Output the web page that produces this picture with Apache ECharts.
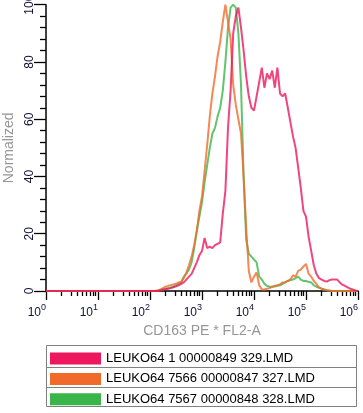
<!DOCTYPE html>
<html><head><meta charset="utf-8">
<script src="https://cdn.jsdelivr.net/npm/echarts@6/dist/echarts.min.js"></script>
<style>html,body{margin:0;padding:0;background:#fff}#c{width:363px;height:413px}</style>
</head><body><div id="c"></div>
<script>
// x positions in decades (log10 of CD163 PE * FL2-A)
const decades = [0,
 2.00,2.05,2.10,2.15,2.20,2.25,2.30,2.35,2.40,2.45,
 2.50,2.55,2.60,2.65,2.70,2.75,2.80,2.85,2.90,2.95,
 3.00,3.05,3.10,3.15,3.20,3.25,3.30,3.35,3.40,3.45,
 3.50,3.55,3.60,3.65,3.70,3.75,3.80,3.85,3.90,3.95,
 4.00,4.05,4.10,4.15,4.20,4.25,4.30,4.35,4.40,4.45,
 4.50,4.55,4.60,4.65,4.70,4.75,4.80,4.85,4.90,4.95,
 5.00,5.05,5.10,5.15,5.20,5.25,5.30,5.35,5.40,5.45,
 5.50,5.55,5.60,5.65,5.70,5.75,5.80,5.85,5.90,5.95,
 6.00];
const seriesNames = ['LEUKO64 1 00000849 329.LMD','LEUKO64 7566 00000847 327.LMD','LEUKO64 7567 00000848 328.LMD'];
const pinkValues = [0,
 0,0,0,0,0.2,0.4,0.6,0.8,1,1.3,
 1.6,2,2.5,3,4,5,6,8,10,12.5,
 14,18.5,15,15.5,15,16,16.5,17,27,35,
 57,70,90,96,99,92,84,75,68,64,
 63,68,73,78,71,76,74,77,71,78,
 69,68,69,64,59,54,50,43,36,28,
 26,19,14,9,6,4.5,4,3.5,3.3,3.8,
 4,4,4,3,2.2,1.8,1.3,0.8,0.5,0.2,
 0];
const orangeValues = [0,
 0,0,0,0.2,0.5,1,1.5,1.8,2,2.3,
 2.5,3,3.2,4.5,6.5,9,12,16,21,28,
 33,42,51,61,69,75,82,87,94,100,
 94,88,72,65,60,55,40,22,7,3,
 5,6.5,2,0.5,0.5,0.8,1,1.5,1.8,2,
 2.3,3,3,3.5,4,5.5,5,7,7.5,8.5,
 9.5,6,5,3.5,2.5,1.2,0.8,0.5,0.3,0.2,
 0,0,0,0,0,0,0,0,0,0,
 0];
const greenValues = [0,
 0,0,0,0.2,0.4,0.7,0.8,1,1.2,1.5,
 2,2.5,3,5,6,7.5,10,15,21,26,
 31,38,44,50,55,57,61,64,70,80,
 92,99,100,99,90,72,40,18,13,12,
 11,10,5,4,2.5,1.8,1.5,1.5,1.6,1.8,
 2,2.5,3,3.5,3.8,4,4.5,5,4,3.5,
 3.5,3.2,3,2,1.5,1.2,0.8,0.5,0.3,0.1,
 0,0,0,0,0,0,0,0,0,0,
 0];
const colors = ['#EC175D','#F26A29','#3AB54A'];
const xTickExponents = [0,1,2,3,4,5,6];

const minorTicks = [];
for (let e = 0; e < 6; e++) for (let k = 2; k < 10; k++) minorTicks.push(e + Math.log10(k));

const pair = vals => decades.map((d, i) => [d, vals[i]]);
const FONT = 'Liberation Sans, Arial, sans-serif';
const labelColor = '#10103a';

const chart = echarts.init(document.getElementById('c'), null, {renderer: 'canvas'});
const mk = (idx, vals, z) => ({
  name: seriesNames[idx], type: 'line', data: pair(vals), showSymbol: false, symbol: 'none',
  z: z, color: colors[idx], itemStyle: {color: colors[idx]},
  lineStyle: {color: colors[idx], width: 2, opacity: 0.8}, animation: false
});
chart.setOption({
  animation: false,
  grid: {left: 46, right: 5, top: 4.7, bottom: 122, containLabel: false, outerBoundsMode: 'none'},
  xAxis: [{
    type: 'value', min: 0, max: 6, interval: 1,
    name: 'CD163 PE * FL2-A', nameLocation: 'middle', nameGap: 29,
    nameTextStyle: {fontFamily: FONT, fontSize: 14, color: '#969696'},
    axisLine: {show: true, lineStyle: {color: '#000', width: 1.5}},
    axisTick: {show: true, length: 9, lineStyle: {color: '#000', width: 1.3}},
    splitLine: {show: false},
    axisLabel: {
      margin: 12, align: 'right',
      formatter: v => '{b|10}{s|' + v + '}',
      rich: {
        b: {fontFamily: FONT, fontSize: 12, color: labelColor, verticalAlign: 'bottom', lineHeight: 16},
        s: {fontFamily: FONT, fontSize: 9, color: labelColor, verticalAlign: 'top', lineHeight: 16}
      }
    }
  }, {
    type: 'value', min: 0, max: 6, position: 'bottom',
    axisLine: {show: false},
    axisTick: {show: true, length: 5, customValues: minorTicks, lineStyle: {color: '#000', width: 1.3}},
    axisLabel: {show: false}, splitLine: {show: false}
  }],
  yAxis: {
    type: 'value', min: 0, max: 100, interval: 20,
    name: 'Normalized', nameLocation: 'middle', nameGap: 27, nameRotate: 90,
    nameTextStyle: {fontFamily: FONT, fontSize: 14, color: '#969696'},
    axisLine: {show: true, lineStyle: {color: '#000', width: 1.5}},
    axisTick: {show: true, length: 12, lineStyle: {color: '#000', width: 1.3}},
    minorTick: {show: true, splitNumber: 5, length: 6, lineStyle: {color: '#000', width: 1.3}},
    splitLine: {show: false},
    axisLabel: {rotate: 90, margin: 10, fontFamily: FONT, fontSize: 12, color: labelColor,
      align: 'center', verticalAlign: 'bottom'}
  },
  legend: {
    orient: 'vertical', left: 50, top: 352, padding: 0,
    itemWidth: 51, itemHeight: 12, itemGap: 7.4, icon: 'rect', selectedMode: false,
    data: seriesNames,
    textStyle: {fontFamily: FONT, fontSize: 13, lineHeight: 12, color: '#000'}
  },
  graphic: [
    {type: 'rect', shape: {x: 46.5, y: 345.5, width: 310, height: 61}, style: {fill: 'none', stroke: '#808080', lineWidth: 1}},
    {type: 'line', shape: {x1: 46.5, y1: 367.5, x2: 356.5, y2: 367.5}, style: {stroke: '#808080', lineWidth: 1}},
    {type: 'line', shape: {x1: 46.5, y1: 387.5, x2: 356.5, y2: 387.5}, style: {stroke: '#808080', lineWidth: 1}}
  ],
  series: [mk(2, greenValues, 2), mk(1, orangeValues, 3), mk(0, pinkValues, 4)]
});
</script>
</body></html>
